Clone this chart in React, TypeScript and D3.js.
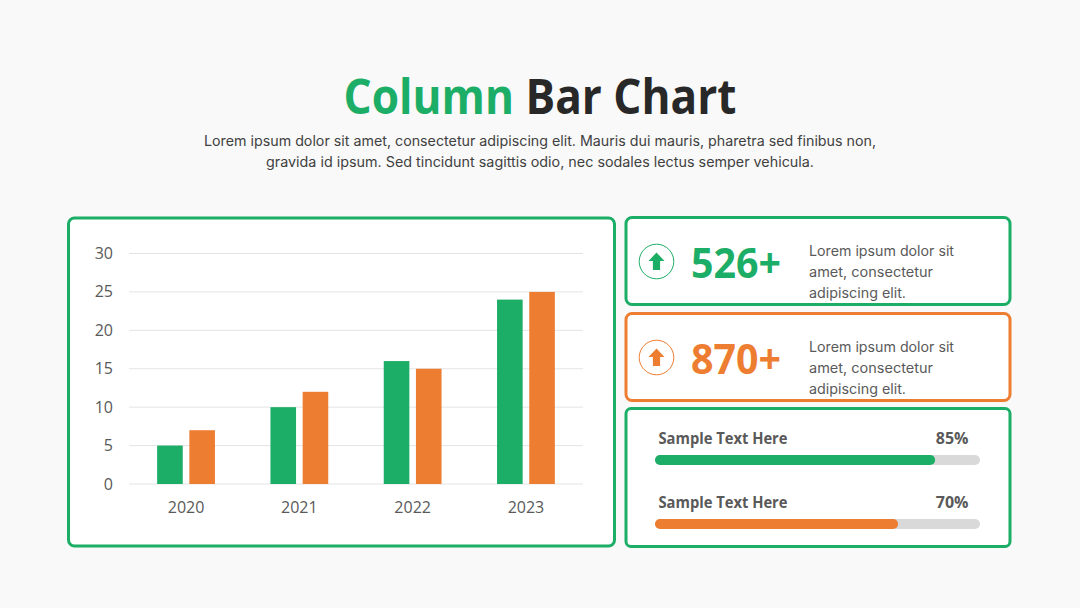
import React from "react";
import * as d3 from "d3";

const years = ["2020", "2021", "2022", "2023"];
const seriesGreen = [5, 10, 16, 24];
const seriesOrange = [7, 12, 15, 25];
const yTicks = [0, 5, 10, 15, 20, 25, 30];
const subtitleLines = [
  "Lorem ipsum dolor sit amet, consectetur adipiscing elit. Mauris dui mauris, pharetra sed finibus non,",
  "gravida id ipsum. Sed tincidunt sagittis odio, nec sodales lectus semper vehicula.",
];
const statLines = ["Lorem ipsum dolor sit", "amet, consectetur", "adipiscing elit."];
const progressLabel = "Sample Text Here";
const progressValues = [85, 70];
const statValues = ["526+", "870+"];

const GREEN = "#1cad67";
const ORANGE = "#ed7d31";
const TITLE_FONT = "'Open Sans', sans-serif";
const BODY_FONT = "Inter, 'Noto Sans', sans-serif";
const LABEL_FONT = "'Open Sans', sans-serif";

function Arrow({ cx, cy, color }: { cx: number; cy: number; color: string }) {
  return (
    <g>
      <circle cx={cx} cy={cy} r={17.3} fill="#fff" stroke={color} strokeWidth={1} />
      <path
        d={`M${cx} ${cy - 9}L${cx + 8} ${cy - 0.5}H${cx + 3.6}V${cy + 8.5}H${cx - 3.6}V${cy - 0.5}H${cx - 8}Z`}
        fill={color}
      />
    </g>
  );
}

export default function App() {
  const x0 = d3.scaleBand<string>().domain(years).range([129.4, 582.6]);
  const y = d3.scaleLinear().domain([0, 30]).range([484, 253.5]);
  const barW = 25.6;
  const gap = 6.6;
  const px = d3.scaleLinear().domain([0, 100]).range([655, 980]);

  return (
    <svg
      width={1080}
      height={608}
      viewBox="0 0 1080 608"
      style={{ position: "fixed", left: 0, top: 0, display: "block" }}
    >
      <rect width={1080} height={608} fill="#f9f9f9" />

      <text x={540} y={114} textAnchor="middle" fontFamily={TITLE_FONT} fontWeight={700} fontSize={48.5}
        textLength={393} lengthAdjust="spacingAndGlyphs">
        <tspan fill={GREEN}>Column </tspan>
        <tspan fill="#282828">Bar Chart</tspan>
      </text>
      {subtitleLines.map((t, i) => (
        <text key={i} x={540} y={146 + i * 21} textAnchor="middle" fontFamily={BODY_FONT} fontSize={14}
          fill="#404040" textLength={i === 0 ? 672 : 548} lengthAdjust="spacingAndGlyphs">
          {t}
        </text>
      ))}

      {/* chart panel */}
      <rect x={68.5} y={218} width={546} height={328} rx={6} fill="#fff" stroke={GREEN} strokeWidth={3} />
      {yTicks.map((t) => (
        <g key={t}>
          <line x1={129} x2={583} y1={y(t)} y2={y(t)} stroke="#e4e4e4" strokeWidth={1} />
          <text x={113} y={y(t) + 5.5} textAnchor="end" fontFamily={LABEL_FONT} fontSize={16} fill="#595959">{t}</text>
        </g>
      ))}
      {years.map((yr, i) => {
        const c = (x0(yr) as number) + x0.bandwidth() / 2;
        return (
          <g key={yr}>
            <rect x={c - gap / 2 - barW} y={y(seriesGreen[i])} width={barW} height={y(0) - y(seriesGreen[i])} fill={GREEN} />
            <rect x={c + gap / 2} y={y(seriesOrange[i])} width={barW} height={y(0) - y(seriesOrange[i])} fill={ORANGE} />
            <text x={c} y={513} textAnchor="middle" fontFamily={LABEL_FONT} fontSize={16} fill="#595959">{yr}</text>
          </g>
        );
      })}

      {/* stat panels */}
      {statValues.map((v, i) => {
        const color = i === 0 ? GREEN : ORANGE;
        const top = i === 0 ? 217.5 : 313.5;
        return (
          <g key={v}>
            <rect x={626} y={top} width={384} height={87} rx={6} fill="#fff" stroke={color} strokeWidth={3} />
            <Arrow cx={656.5} cy={top + 44} color={color} />
            <text x={691} y={top + 60} fontFamily={TITLE_FONT} fontWeight={700} fontSize={41} fill={color}
              textLength={90} lengthAdjust="spacingAndGlyphs">{v}</text>
            {statLines.map((t, j) => (
              <text key={j} x={809} y={top + 38.5 + j * 21} fontFamily={BODY_FONT} fontSize={14} fill="#595959"
                textLength={[145, 124, 97][j]} lengthAdjust="spacingAndGlyphs">{t}</text>
            ))}
          </g>
        );
      })}

      {/* progress panel */}
      <rect x={626} y={408.5} width={384} height={138} rx={5} fill="#fff" stroke={GREEN} strokeWidth={3} />
      {progressValues.map((p, i) => {
        const color = i === 0 ? GREEN : ORANGE;
        const top = 455 + i * 64;
        return (
          <g key={i}>
            <rect x={px(0)} y={top} width={px(100) - px(0)} height={10} rx={5} fill="#d9d9d9" />
            <rect x={px(0)} y={top} width={px(p + (i === 0 ? 1.2 : 4.8)) - px(0)} height={10} rx={5} fill={color} />
            <text x={658.5} y={top - 11} fontFamily={LABEL_FONT} fontWeight={700} fontSize={16} fill="#595959"
              textLength={129} lengthAdjust="spacingAndGlyphs">{progressLabel}</text>
            <text x={968.5} y={top - 11} textAnchor="end" fontFamily={LABEL_FONT} fontWeight={700} fontSize={16} fill="#595959">{p}%</text>
          </g>
        );
      })}
    </svg>
  );
}
